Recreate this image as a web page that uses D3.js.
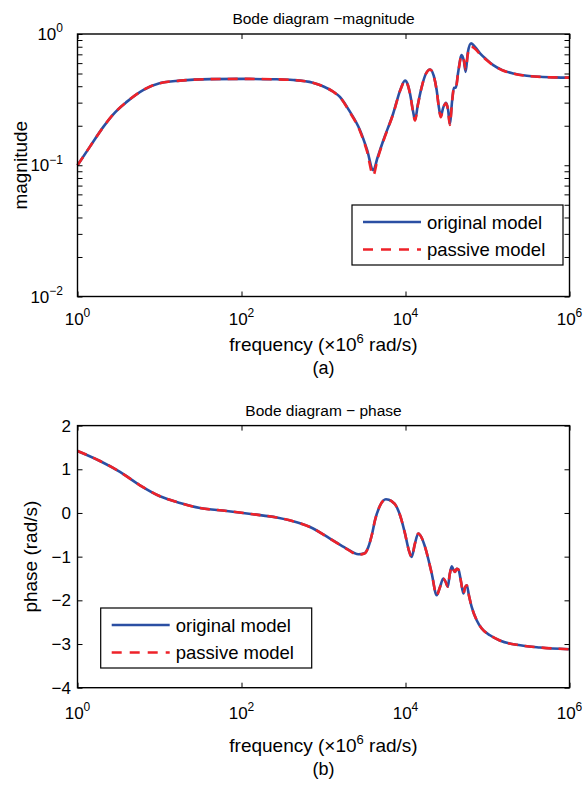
<!DOCTYPE html>
<html><head><meta charset="utf-8">
<script src="https://cdn.jsdelivr.net/npm/d3@7"></script>
<style>body{margin:0;background:#fff}svg{display:block}text{font-family:"Liberation Sans",Arial,Helvetica,sans-serif;fill:#000}</style>
</head><body>
<svg id="chart" width="585" height="785"></svg>
<script>
// ---- data ----
const magFreqExp = [0,0.15,0.315,0.45,0.6,0.8,1.0,1.25,1.62,2.02,2.4,2.63,2.87,3.0,3.12,3.2,3.32,3.445,3.53,3.607,3.66,3.73,3.85,3.94,3.994,4.03,4.055,4.09,4.116,4.15,4.198,4.25,4.30,4.345,4.38,4.41,4.43,4.46,4.494,4.52,4.54,4.57,4.59,4.614,4.64,4.685,4.71,4.734,4.76,4.80,4.85,4.909,4.98,5.07,5.18,5.315,5.48,5.64,5.82,6.0];
const magOriginal = [0.100,0.138,0.196,0.250,0.304,0.374,0.421,0.441,0.453,0.455,0.452,0.446,0.425,0.398,0.363,0.332,0.257,0.185,0.132,0.0916,0.115,0.155,0.248,0.380,0.441,0.407,0.352,0.263,0.221,0.288,0.396,0.500,0.537,0.479,0.374,0.269,0.237,0.275,0.299,0.263,0.208,0.316,0.389,0.389,0.500,0.692,0.631,0.515,0.724,0.849,0.794,0.713,0.646,0.579,0.531,0.501,0.481,0.472,0.467,0.465];
const magPassive  = [0.100,0.138,0.196,0.250,0.304,0.374,0.421,0.441,0.453,0.455,0.452,0.446,0.425,0.398,0.363,0.330,0.254,0.182,0.128,0.0840,0.112,0.153,0.246,0.378,0.440,0.405,0.350,0.260,0.219,0.286,0.395,0.499,0.536,0.478,0.372,0.266,0.232,0.273,0.297,0.260,0.203,0.312,0.386,0.388,0.495,0.680,0.640,0.540,0.700,0.800,0.770,0.700,0.640,0.576,0.530,0.500,0.480,0.471,0.467,0.465];

const phFreqExp = [0,0.274,0.518,0.762,1.006,1.25,1.494,1.82,2.14,2.43,2.63,2.835,3.079,3.28,3.425,3.50,3.547,3.59,3.628,3.69,3.762,3.83,3.893,3.95,3.994,4.04,4.075,4.115,4.156,4.20,4.238,4.32,4.38,4.42,4.46,4.49,4.515,4.54,4.564,4.585,4.604,4.625,4.645,4.675,4.706,4.727,4.747,4.775,4.807,4.868,4.93,5.03,5.15,5.4,5.64,6.0];
const phOriginal = [1.42,1.19,0.94,0.634,0.382,0.229,0.114,0.046,-0.03,-0.105,-0.19,-0.32,-0.586,-0.815,-0.945,-0.92,-0.778,-0.50,-0.167,0.17,0.313,0.27,0.137,-0.15,-0.471,-0.85,-1.006,-0.70,-0.471,-0.58,-0.778,-1.387,-1.883,-1.70,-1.50,-1.58,-1.69,-1.40,-1.22,-1.30,-1.35,-1.28,-1.295,-1.55,-1.845,-1.70,-1.654,-1.90,-2.15,-2.455,-2.646,-2.80,-2.92,-3.03,-3.08,-3.12];
const phPassive  = [1.42,1.19,0.94,0.634,0.382,0.229,0.114,0.046,-0.03,-0.105,-0.19,-0.32,-0.588,-0.82,-0.955,-0.93,-0.78,-0.50,-0.167,0.17,0.313,0.27,0.137,-0.15,-0.471,-0.85,-1.006,-0.70,-0.471,-0.58,-0.778,-1.387,-1.883,-1.70,-1.50,-1.58,-1.69,-1.40,-1.22,-1.30,-1.35,-1.28,-1.295,-1.55,-1.845,-1.70,-1.654,-1.90,-2.15,-2.455,-2.646,-2.80,-2.92,-3.03,-3.08,-3.12];

const xTickExp = [0,2,4,6];
const magTickExp = [0,-1,-2];
const phTicks = [2,1,0,-1,-2,-3,-4];
const seriesNames = ["original model","passive model"];
const seriesColors = ["#2b4fa3","#ee2229"];

// ---- layout ----
const svg = d3.select("#chart");
const L = 77.5, R = 569.5;
const x = d3.scaleLog().domain([1,1e6]).range([L,R]);
const yMag = d3.scaleLog().domain([1e-2,1]).range([296.5,34]);
const yPh = d3.scaleLinear().domain([-4,2]).range([687.7,425.6]);

function supText(g, base, sup, attrs, bs, ss){
  const t = g.append("text");
  for (const k in attrs) t.attr(k, attrs[k]);
  t.append("tspan").text(base).style("font-size", bs+"px");
  if (sup !== null) t.append("tspan").attr("dy", -bs*0.45).style("font-size", ss+"px").text(sup);
  return t;
}

function drawPanel(yScale, isLog, freqExp, s1, s2, title, titleY, ylab, ylabX, legendBox, tickLabelY, xlabY, capY, cap){
  const g = svg.append("g");
  const top = yScale.range()[1], bot = yScale.range()[0];
  const mk = (vals) => freqExp.map((e,i)=>[Math.pow(10,e), vals[i]]);
  const line = d3.line().x(d=>x(d[0])).y(d=>yScale(d[1])).curve(d3.curveMonotoneX);
  g.append("path").attr("d", line(mk(s1))).attr("fill","none").attr("stroke",seriesColors[0]).attr("stroke-width",2.6);
  g.append("path").attr("d", line(mk(s2))).attr("fill","none").attr("stroke",seriesColors[1]).attr("stroke-width",2.6).attr("stroke-dasharray","10,7");
  const xt = xTickExp.map(e=>Math.pow(10,e));
  const xb = d3.axisBottom(x).tickValues(xt).tickSize(-5).tickFormat("");
  const xtop = d3.axisTop(x).tickValues(xt).tickSize(-5).tickFormat("");
  let yt;
  if (isLog){
    yt = [];
    for (let d=-2; d<0; d++) for (let k=1;k<10;k++) yt.push(k*Math.pow(10,d));
    yt.push(1);
  } else yt = phTicks;
  const yl = d3.axisLeft(yScale).tickValues(yt).tickSize(-5).tickFormat("");
  const yr = d3.axisRight(yScale).tickValues(yt).tickSize(-5).tickFormat("");
  [[xb,`translate(0,${bot})`],[xtop,`translate(0,${top})`],[yl,`translate(${L},0)`],[yr,`translate(${R},0)`]].forEach(([a,t])=>{
    const ag = g.append("g").attr("transform",t).call(a);
    ag.select(".domain").remove();
    ag.selectAll("line").attr("stroke","#000").attr("stroke-width",1);
  });
  g.append("rect").attr("x",L).attr("y",top).attr("width",R-L).attr("height",bot-top).attr("fill","none").attr("stroke","#000").attr("stroke-width",1.4);
  xTickExp.forEach(e=>{
    supText(g,"10",String(e),{x:x(Math.pow(10,e)),y:tickLabelY,"text-anchor":"middle"},17,12);
  });
  if (isLog){
    magTickExp.forEach(e=>{
      supText(g,"10",e===0?"0":"\u2212"+(-e),{x:63,y:yScale(Math.pow(10,e))+6,"text-anchor":"end"},17,12);
    });
  } else {
    phTicks.forEach(v=>{
      g.append("text").attr("x",71).attr("y",yScale(v)+6).attr("text-anchor","end").style("font-size","17px").text(v<0?"\u2212"+(-v):String(v));
    });
  }
  g.append("text").attr("x",(L+R)/2).attr("y",titleY).attr("text-anchor","middle").style("font-size","15.5px").text(title);
  g.append("text").attr("transform",`translate(${ylabX},${(top+bot)/2}) rotate(-90)`).attr("text-anchor","middle").style("font-size","19px").text(ylab);
  const xl = g.append("text").attr("x",(L+R)/2).attr("y",xlabY).attr("text-anchor","middle").style("font-size","19px");
  xl.append("tspan").text("frequency (\u00d710");
  xl.append("tspan").attr("dy",-8).style("font-size","13px").text("6");
  xl.append("tspan").attr("dy",8).text(" rad/s)");
  g.append("text").attr("x",(L+R)/2).attr("y",capY).attr("text-anchor","middle").style("font-size","18px").text(cap);
  const [lx,ly,lw,lh] = legendBox;
  const lg = g.append("g");
  lg.append("rect").attr("x",lx).attr("y",ly).attr("width",lw).attr("height",lh).attr("fill","#fff").attr("stroke","#000").attr("stroke-width",1.2);
  seriesNames.forEach((n,i)=>{
    const yy = ly + 17 + i*27.5;
    lg.append("line").attr("x1",lx+11).attr("x2",lx+69).attr("y1",yy).attr("y2",yy).attr("stroke",seriesColors[i]).attr("stroke-width",2.6).attr("stroke-dasharray", i===1?"10,8":null);
    lg.append("text").attr("x",lx+75).attr("y",yy+6.5).style("font-size","18.5px").text(n);
  });
}

drawPanel(yMag,true,magFreqExp,magOriginal,magPassive,"Bode diagram \u2212magnitude",24,"magnitude",27,[352,205,211,60],325,351,374,"(a)");
drawPanel(yPh,false,phFreqExp,phOriginal,phPassive,"Bode diagram \u2212 phase",416,"phase (rad/s)",37,[100.7,608,211,60],719,752,775,"(b)");
</script>
</body></html>
